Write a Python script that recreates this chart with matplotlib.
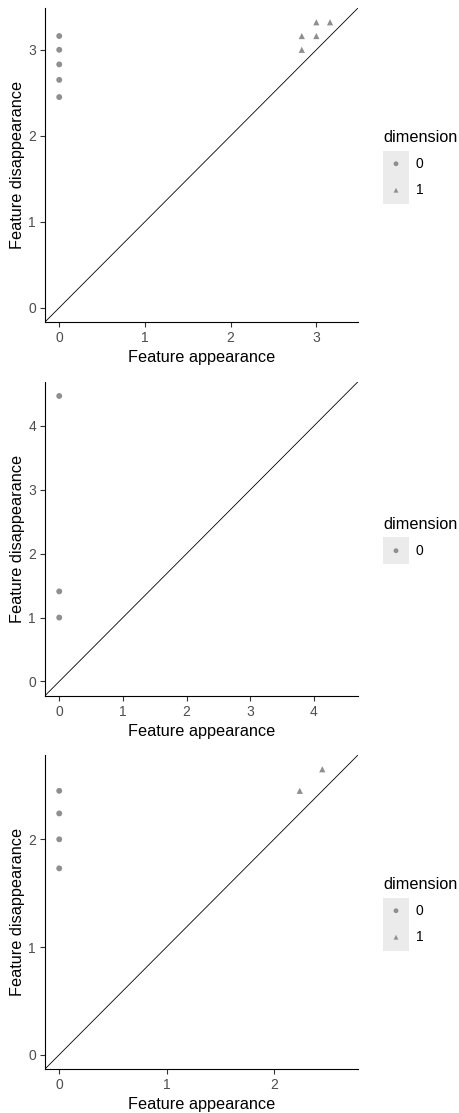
import matplotlib
matplotlib.use("Agg")
import matplotlib.pyplot as plt
import numpy as np

plt.rcParams['font.family'] = ['Liberation Sans', 'DejaVu Sans']

# ---- data (birth, death, dimension) ----
p1_birth = [0, 0, 0, 0, 0, 2.83, 2.83, 3.0, 3.0, 3.16]
p1_death = [3.16, 3.0, 2.83, 2.65, 2.45, 3.16, 3.0, 3.32, 3.16, 3.32]
p1_dim = [0, 0, 0, 0, 0, 1, 1, 1, 1, 1]

p2_birth = [0, 0, 0]
p2_death = [4.47, 1.41, 1.0]
p2_dim = [0, 0, 0]

p3_birth = [0, 0, 0, 0, 2.24, 2.45]
p3_death = [2.45, 2.24, 2.0, 1.73, 2.45, 2.65]
p3_dim = [0, 0, 0, 0, 1, 1]

panels = [(p1_birth, p1_death, p1_dim), (p2_birth, p2_death, p2_dim), (p3_birth, p3_death, p3_dim)]
x_ticks = [[0, 1, 2, 3], [0, 1, 2, 3, 4], [0, 1, 2]]
y_ticks = [[0, 1, 2, 3], [0, 1, 2, 3, 4], [0, 1, 2]]
dim_labels = ["0", "1"]
markers = {0: 'o', 1: '^'}

W, H = 460, 1113
fig = plt.figure(figsize=(W / 100, H / 100), dpi=100)
fig.patch.set_facecolor('white')

tops = [8, 381.7, 755]
ax_left, ax_w, ax_h = 45, 313, 314
pt_color = '#8f8f8f'

def fx(px):
    return px / W

def fy(py):
    return 1 - py / H

for i, (b, d, dm) in enumerate(panels):
    top = tops[i]
    ax = fig.add_axes([fx(ax_left), fy(top + ax_h), ax_w / W, ax_h / H])
    b = np.array(b); d = np.array(d); dm = np.array(dm)
    L = max(d.max(), b.max())
    lo, hi = -0.05 * L, 1.05 * L
    ax.set_xlim(lo, hi)
    ax.set_ylim(lo, hi)
    ax.axline((0, 0), slope=1, color='black', lw=0.6, zorder=1)
    for k in sorted(set(dm.tolist())):
        m = dm == k
        ax.scatter(b[m], d[m], marker=markers[k], s=18 if k == 0 else 20,
                   color=pt_color, edgecolors='none', zorder=3)
    ax.set_xticks(x_ticks[i])
    ax.set_yticks(y_ticks[i])
    for s in ['top', 'right']:
        ax.spines[s].set_visible(False)
    for s in ['left', 'bottom']:
        ax.spines[s].set_color('black')
        ax.spines[s].set_linewidth(0.8)
    ax.tick_params(axis='both', length=3.5, width=0.8, color='#333333',
                   labelcolor='#4d4d4d', labelsize=10, pad=3)
    ax.set_xlabel("Feature appearance", fontsize=11.7, color='black', labelpad=3.5)
    ax.set_ylabel("Feature disappearance", fontsize=11.7, color='black', labelpad=2)

    # ---- legend (manual, ggplot-like) ----
    keys = sorted(set(dm.tolist()))
    n = len(keys)
    key_h = 26.5
    cy = top + ax_h / 2 + 12
    box_top = cy - n * key_h / 2
    lax = fig.add_axes([fx(383), fy(box_top + n * key_h), 26 / W, n * key_h / H])
    lax.set_facecolor('#ebebeb')
    lax.set_xlim(0, 1)
    lax.set_ylim(n, 0)
    for s in lax.spines.values():
        s.set_visible(False)
    lax.set_xticks([]); lax.set_yticks([])
    for j, k in enumerate(keys):
        lax.scatter([0.5], [j + 0.5], marker=markers[k], s=12, color=pt_color,
                    edgecolors='none')
        fig.text(fx(416), fy(box_top + (j + 0.5) * key_h), dim_labels[k],
                 fontsize=10, color='black', ha='left', va='center')
    fig.text(fx(383), fy(box_top - 13), "dimension", fontsize=11.7,
             color='black', ha='left', va='center')

fig.savefig("out.png", dpi=100)
